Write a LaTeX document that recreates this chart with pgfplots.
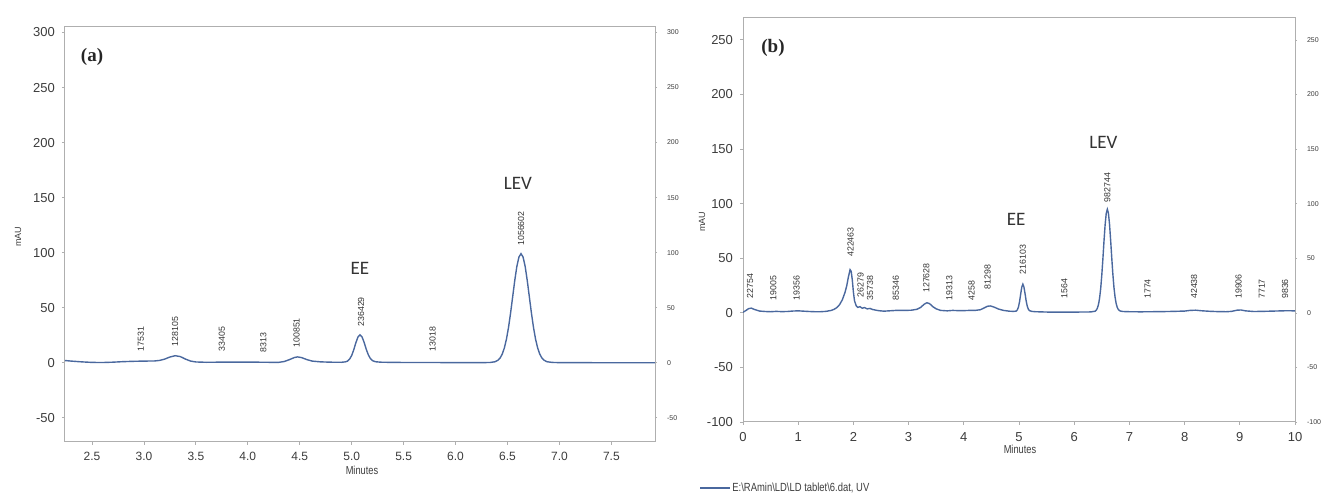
\documentclass[border=0pt]{standalone}
\usepackage{fontspec}
\setmainfont{Liberation Sans}
\newfontfamily\carlito{Carlito}
\newfontfamily\tnr{Liberation Serif}
\newfontfamily\narrow{Liberation Sans}[FakeStretch=0.8]
\usepackage{pgfplots}
\pgfplotsset{compat=1.18}
\definecolor{trace}{RGB}{74,104,158}
\definecolor{axisgray}{RGB}{175,175,175}
\definecolor{labelgray}{RGB}{60,60,60}

\pgfplotsset{
  chrom/.style={
    scale only axis, anchor=south west,
    axis line style={axisgray, line width=0.5pt},
    tick style={axisgray, line width=0.4pt},
    major tick length=1.5pt,
    tick align=outside,
    xtick pos=bottom, ytick pos=left,
    /pgf/number format/assume math mode=true,
    tick label style={labelgray},
  },
  righttix/.style={
    scale only axis, anchor=south west,
    axis x line=none, axis y line*=right,
    axis line style={draw=none},
    tick style={axisgray, line width=0.3pt},
    major tick length=1pt, tick align=outside,
    /pgf/number format/assume math mode=true,
    yticklabel style={labelgray, font=\fontsize{3.5}{4}\selectfont, xshift=1.5pt},
  },
  trc/.style={trace, line width=0.7pt},
}
\tikzset{
  pk/.style={font=\fontsize{4.4}{5}\selectfont, rotate=90, anchor=west, inner sep=0pt, text=black!80},
  nm/.style={font=\carlito\fontsize{9.5}{11}\selectfont, text=black!80},
}

\begin{document}
\begin{tikzpicture}
\path[use as bounding box] (0,0) rectangle (661pt,249pt);

% ---------- panel (a)
\begin{axis}[chrom, at={(32.5pt,28pt)}, width=295pt, height=207.5pt,
  xmin=2.24, xmax=7.92, ymin=-72, ymax=305,
  xtick={2.5,3.0,...,7.5}, ytick={-50,0,50,...,300},
  xticklabel style={font=\fontsize{6}{7}\selectfont, /pgf/number format/.cd, fixed, fixed zerofill, precision=1},
  yticklabel style={font=\fontsize{6.5}{7}\selectfont},
]
\addplot[trc] coordinates {
(2.24,2.0)(2.3,1.5)(2.4,0.8)(2.5,0.3)(2.6,0.2)(2.7,0.5)(2.8,1.0)(2.9,1.3)(3.0,1.5)(3.1,1.6)
(3.15,2.1)(3.2,3.3)(3.25,5.2)(3.3,6.4)(3.35,5.6)(3.4,3.3)(3.45,1.5)(3.5,0.7)(3.6,0.4)(3.7,0.5)
(3.8,0.6)(3.9,0.5)(4.0,0.5)(4.1,0.5)(4.2,0.4)(4.3,0.4)(4.35,1.1)(4.4,2.8)(4.45,4.8)(4.48,5.3)
(4.52,4.6)(4.57,2.8)(4.62,1.5)(4.7,0.8)(4.8,0.5)(4.9,0.4)(4.94,0.8)(4.96,1.5)(4.98,3.3)(5.00,6.6)
(5.02,11.8)(5.04,18.1)(5.06,23.3)(5.08,25.4)(5.10,23.4)(5.12,18.4)(5.14,12.3)(5.16,7.2)(5.18,3.8)
(5.20,1.9)(5.23,0.9)(5.28,0.5)(5.4,0.3)(5.6,0.2)(5.8,0.2)(6.0,0.1)(6.2,0.1)(6.33,0.2)(6.38,0.9)
(6.41,2.4)(6.43,4.5)(6.45,8.0)(6.47,13.5)(6.49,21.5)(6.51,32.2)(6.53,45.4)(6.55,60.1)(6.57,74.8)
(6.59,87.5)(6.61,96.0)(6.63,99.1)(6.65,96.0)(6.67,87.5)(6.69,74.8)(6.71,60.1)(6.73,45.4)(6.75,32.2)
(6.77,21.5)(6.79,13.5)(6.81,8.0)(6.83,4.5)(6.85,2.4)(6.88,0.9)(6.93,0.3)(7.0,0.1)(7.5,0.0)(7.92,0.0)
};
\node[pk] at (axis cs:2.97,10) {17531};
\node[pk] at (axis cs:3.30,14.5) {128105};
\node[pk] at (axis cs:3.75,10) {33405};
\node[pk] at (axis cs:4.15,9) {8313};
\node[pk] at (axis cs:4.47,13.5) {100851};
\node[pk] at (axis cs:5.09,32.5) {236429};
\node[pk] at (axis cs:5.78,10) {13018};
\node[pk] at (axis cs:6.63,106) {1056602};
\node[nm] at (axis cs:5.08,86) {EE};
\node[nm] at (axis cs:6.6,163) {LEV};
\end{axis}
\begin{axis}[righttix, at={(32.5pt,28pt)}, width=295pt, height=207.5pt,
  xmin=2.24, xmax=7.92, ymin=-72, ymax=305, ytick={-50,0,50,...,300}]
\end{axis}

% ---------- panel (b)
\begin{axis}[chrom, at={(371.5pt,38pt)}, width=276pt, height=202pt,
  xmin=0, xmax=10, ymin=-100, ymax=270,
  xtick={0,1,...,10}, ytick={-100,-50,0,50,...,250},
  xticklabel style={font=\fontsize{6.5}{7}\selectfont},
  yticklabel style={font=\fontsize{6.5}{7}\selectfont},
]
\addplot[trc] coordinates {
(0,0.5)(0.05,2)(0.1,3.8)(0.15,4.3)(0.2,3.2)(0.3,1.6)(0.4,1.2)(0.5,1.0)(0.6,1.3)(0.7,1.1)(0.8,1.2)
(0.9,1.6)(1.0,1.8)(1.1,1.5)(1.2,1.2)(1.3,1.0)(1.4,1.0)(1.5,1.3)(1.6,2.2)(1.65,3.2)(1.7,4.8)
(1.75,7.5)(1.8,12)(1.85,19)(1.88,25)(1.91,33)(1.94,39.5)(1.96,38)(1.98,30)(2.0,19)(2.02,11)
(2.05,6.5)(2.08,5)(2.12,5.6)(2.16,4.2)(2.2,4.8)(2.25,3.6)(2.3,4.0)(2.35,3.0)(2.45,2.0)(2.55,1.5)
(2.65,1.8)(2.8,2.3)(2.95,2.2)(3.05,2.4)(3.15,3.2)(3.22,5.0)(3.28,7.8)(3.33,9.2)(3.38,8.4)(3.44,5.6)
(3.5,3.6)(3.58,2.2)(3.7,1.8)(3.8,2.2)(3.9,2.0)(4.0,2.0)(4.1,2.2)(4.2,2.2)(4.3,2.8)(4.37,4.5)
(4.43,6.0)(4.48,6.3)(4.55,5.2)(4.63,3.4)(4.72,2.2)(4.82,1.5)(4.9,1.3)(4.95,1.6)(4.97,2.7)(4.99,5.3)
(5.01,10.2)(5.03,17.1)(5.05,23.5)(5.07,26.2)(5.09,23.5)(5.11,17.4)(5.13,10.8)(5.15,6.0)(5.17,3.2)
(5.19,2.0)(5.23,1.3)(5.3,1.0)(5.5,0.7)(5.7,0.6)(5.9,0.6)(6.1,0.7)(6.3,0.8)(6.38,1.5)(6.40,2.4)
(6.42,4.3)(6.44,7.7)(6.46,13.5)(6.48,22.4)(6.50,34.7)(6.52,49.7)(6.54,65.9)(6.56,80.6)(6.58,91.0)
(6.60,94.8)(6.62,91.2)(6.64,81.0)(6.66,66.5)(6.68,50.6)(6.70,35.5)(6.72,23.3)(6.74,14.4)(6.76,8.5)
(6.78,4.9)(6.80,2.9)(6.83,1.7)(6.88,1.2)(7.0,1.0)(7.2,0.9)(7.4,1.0)(7.6,1.1)(7.8,1.3)(8.0,1.6)
(8.1,2.2)(8.2,2.4)(8.3,1.9)(8.45,1.4)(8.6,1.1)(8.75,1.0)(8.85,1.3)(8.95,2.4)(9.02,2.6)(9.1,1.8)
(9.25,1.2)(9.4,1.3)(9.55,1.5)(9.7,1.7)(9.85,1.9)(10,1.8)
};
\node[pk] at (axis cs:0.13,12.7) {22754};
\node[pk] at (axis cs:0.55,11) {19005};
\node[pk] at (axis cs:0.97,11) {19356};
\node[pk] at (axis cs:1.95,51) {422463};
\node[pk] at (axis cs:2.13,13.6) {26279};
\node[pk] at (axis cs:2.30,11) {35738};
\node[pk] at (axis cs:2.77,11) {85346};
\node[pk] at (axis cs:3.32,18) {127628};
\node[pk] at (axis cs:3.74,11) {19313};
\node[pk] at (axis cs:4.14,11) {4258};
\node[pk] at (axis cs:4.43,21) {81298};
\node[pk] at (axis cs:5.07,35) {216103};
\node[pk] at (axis cs:5.82,12.7) {1564};
\node[pk] at (axis cs:6.60,101) {982744};
\node[pk] at (axis cs:7.33,12.5) {1774};
\node[pk] at (axis cs:8.17,12.5) {42438};
\node[pk] at (axis cs:8.98,12.5) {19906};
\node[pk] at (axis cs:9.40,12.5) {7717};
\node[pk] at (axis cs:9.82,12.5) {9836};
\node[nm] at (axis cs:4.95,85.5) {EE};
\node[nm] at (axis cs:6.53,156) {LEV};
\end{axis}
\begin{axis}[righttix, at={(371.5pt,38pt)}, width=276pt, height=202pt,
  xmin=0, xmax=10, ymin=-100, ymax=270, ytick={-100,-50,0,50,...,250}]
\end{axis}

% ---------- labels outside the axes
\node[rotate=90, font=\fontsize{4.5}{5}\selectfont, text=labelgray] at (9pt,130.5pt) {mAU};
\node[font=\narrow\fontsize{5.8}{6}\selectfont, text=labelgray] at (181pt,14pt) {Minutes};
\node[rotate=90, font=\fontsize{4.5}{5}\selectfont, text=labelgray] at (351pt,138pt) {mAU};
\node[font=\narrow\fontsize{5.8}{6}\selectfont, text=labelgray] at (510pt,24.5pt) {Minutes};
\node[font=\tnr\bfseries\fontsize{9.5}{11}\selectfont, text=black!85] at (46pt,220.5pt) {(a)};
\node[font=\tnr\bfseries\fontsize{9.5}{11}\selectfont, text=black!85] at (386.5pt,225pt) {(b)};
\draw[trace, line width=0.7pt] (350pt,5pt) -- (365pt,5pt);
\node[anchor=west, inner sep=0.5pt, font=\narrow\fontsize{5.9}{7}\selectfont, text=labelgray] at (365.5pt,5pt) {E:\textbackslash RAmin\textbackslash LD\textbackslash LD tablet\textbackslash 6.dat, UV};
\end{tikzpicture}
\end{document}
